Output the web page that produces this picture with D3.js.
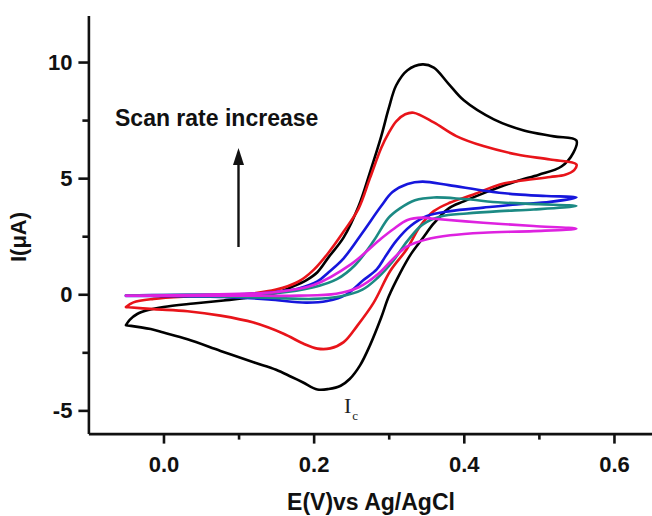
<!DOCTYPE html>
<html>
<head>
<meta charset="utf-8">
<script src="https://cdn.jsdelivr.net/npm/d3@7"></script>
<style>
  html, body { margin: 0; padding: 0; background: #fff; }
  svg { display: block; }
  text { font-family: Arial, "Liberation Sans", Helvetica, sans-serif; }
</style>
</head>
<body>
<svg id="chart" width="652" height="516"></svg>
<script>
// Cyclic voltammograms at increasing scan rates: potential E (V) and current I (µA),
// each list runs forward (anodic) from -0.05 V to 0.55 V, then back (cathodic).
const blackE = [-0.05, -0.045, -0.035, -0.02, 0.0, 0.04, 0.08, 0.12, 0.15, 0.17, 0.19, 0.205, 0.22, 0.24, 0.26, 0.275, 0.29, 0.30, 0.31, 0.325, 0.345, 0.36, 0.38, 0.40, 0.44, 0.48, 0.52, 0.55,
  0.546, 0.53, 0.50, 0.47, 0.43, 0.40, 0.38, 0.36, 0.345, 0.33, 0.315, 0.30, 0.29, 0.275, 0.262, 0.248, 0.236, 0.22, 0.205, 0.186, 0.17, 0.15, 0.12, 0.076, 0.032, 0.0, -0.017, -0.05];
const blackI = [-1.33, -1.1, -0.85, -0.68, -0.55, -0.4, -0.27, -0.12, 0.05, 0.3, 0.6, 0.95, 1.6, 2.45, 3.8, 5.25, 6.8, 8.0, 9.0, 9.65, 9.9, 9.76, 9.05, 8.35, 7.53, 7.05, 6.8, 6.62,
  6.1, 5.5, 5.15, 4.87, 4.4, 4.0, 3.7, 3.05, 2.4, 1.75, 0.9, -0.1, -1.0, -2.2, -3.05, -3.65, -3.94, -4.08, -4.1, -3.8, -3.55, -3.25, -2.93, -2.44, -1.94, -1.65, -1.5, -1.33];

const redE = [-0.05, -0.04, -0.013, 0.03, 0.1, 0.15, 0.18, 0.2, 0.22, 0.24, 0.26, 0.275, 0.29, 0.30, 0.31, 0.322, 0.333, 0.36, 0.39, 0.426, 0.471, 0.515, 0.55,
  0.547, 0.535, 0.515, 0.471, 0.448, 0.413, 0.382, 0.36, 0.342, 0.324, 0.302, 0.28, 0.258, 0.24, 0.222, 0.205, 0.186, 0.16, 0.12, 0.076, 0.032, -0.013, -0.05];
const redI = [-0.55, -0.35, -0.2, -0.1, -0.02, 0.2, 0.55, 1.05, 1.8, 2.7, 3.7, 5.0, 6.3, 6.95, 7.45, 7.75, 7.82, 7.4, 6.81, 6.38, 6.02, 5.8, 5.59,
  5.35, 5.15, 5.05, 4.87, 4.73, 4.3, 3.95, 3.58, 2.94, 1.94, 1.0, -0.36, -1.36, -2.06, -2.33, -2.34, -2.12, -1.7, -1.22, -0.92, -0.73, -0.64, -0.55];

const blueE = [-0.05, 0.0, 0.1, 0.15, 0.18, 0.205, 0.22, 0.24, 0.265, 0.29, 0.305, 0.325, 0.345, 0.38, 0.43, 0.47, 0.51, 0.55,
  0.515, 0.47, 0.426, 0.382, 0.351, 0.329, 0.31, 0.295, 0.284, 0.266, 0.244, 0.218, 0.19, 0.14, 0.08, 0.0, -0.05];
const blueI = [-0.05, -0.03, 0.0, 0.1, 0.25, 0.55, 0.95, 1.55, 2.65, 3.8, 4.4, 4.75, 4.85, 4.7, 4.45, 4.3, 4.23, 4.17,
  3.98, 3.87, 3.73, 3.58, 3.37, 2.94, 2.3, 1.6, 1.07, 0.6, 0.0, -0.29, -0.36, -0.22, -0.12, -0.08, -0.07];

const tealE = [-0.05, 0.05, 0.15, 0.2, 0.231, 0.255, 0.28, 0.30, 0.315, 0.335, 0.36, 0.40, 0.45, 0.5, 0.55,
  0.493, 0.448, 0.404, 0.369, 0.345, 0.325, 0.305, 0.285, 0.265, 0.235, 0.2, 0.14, 0.05, -0.05];
const tealI = [-0.05, -0.02, 0.05, 0.3, 0.65, 1.25, 2.3, 3.3, 3.7, 4.05, 4.17, 4.1, 3.95, 3.88, 3.8,
  3.65, 3.58, 3.48, 3.35, 3.0, 2.3, 1.4, 0.7, 0.2, -0.1, -0.2, -0.15, -0.08, -0.05];

const magentaE = [-0.05, 0.05, 0.15, 0.2, 0.25, 0.29, 0.306, 0.325, 0.345, 0.36, 0.426, 0.493, 0.55,
  0.493, 0.426, 0.382, 0.351, 0.324, 0.305, 0.285, 0.26, 0.23, 0.18, 0.1, -0.05];
const magentaI = [-0.05, -0.02, 0.1, 0.4, 1.3, 2.4, 2.8, 3.2, 3.3, 3.25, 3.08, 2.94, 2.82,
  2.72, 2.65, 2.54, 2.37, 2.05, 1.5, 0.85, 0.3, 0.02, -0.06, -0.06, -0.06];

// axis ticks
const xMajorTicks = [0.0, 0.2, 0.4, 0.6];
const xMinorTicks = [0.1, 0.3, 0.5];
const yMajorTicks = [-5, 0, 5, 10];
const yMinorTicks = [-2.5, 2.5, 7.5];

const series = [
  { E: blackE, I: blackI, color: "#000000" },
  { E: redE, I: redI, color: "#e8141a" },
  { E: blueE, I: blueI, color: "#1616dc" },
  { E: tealE, I: tealI, color: "#1c8a84" },
  { E: magentaE, I: magentaI, color: "#de22e0" }
];

const svg = d3.select("#chart");

const x = d3.scaleLinear().domain([-0.1, 0.65]).range([88.4, 651.5]);
const y = d3.scaleLinear().domain([-6, 12]).range([433.6, 15.6]);

// curves
const line = d3.line()
  .x(d => x(d[0]))
  .y(d => y(d[1]))
  .curve(d3.curveCatmullRom.alpha(0.5));

svg.append("g")
  .selectAll("path")
  .data(series)
  .join("path")
  .attr("d", s => line(s.E.map((e, i) => [e, s.I[i]])))
  .attr("fill", "none")
  .attr("stroke", s => s.color)
  .attr("stroke-width", 2.6)
  .attr("stroke-linejoin", "round")
  .attr("stroke-linecap", "round");

// axes
const axisStroke = 2.6;
const styleAxis = g => {
  g.attr("font-family", null);
  g.select(".domain").attr("stroke", "#111").attr("stroke-width", axisStroke);
  g.selectAll(".tick line").attr("stroke", "#111").attr("stroke-width", axisStroke);
  g.selectAll(".tick text")
    .attr("fill", "#111")
    .style("font-size", "22px")
    .style("font-weight", "bold");
};

svg.append("g")
  .attr("transform", `translate(0,${y(-6)})`)
  .call(d3.axisBottom(x).tickValues(xMajorTicks).tickFormat(d => d.toFixed(1)).tickSize(10).tickSizeOuter(0).tickPadding(13))
  .call(styleAxis);

svg.append("g")
  .attr("transform", `translate(0,${y(-6)})`)
  .call(d3.axisBottom(x).tickValues(xMinorTicks).tickFormat("").tickSize(6).tickSizeOuter(0))
  .call(g => g.select(".domain").remove())
  .call(g => g.selectAll(".tick line").attr("stroke", "#111").attr("stroke-width", axisStroke));

svg.append("g")
  .attr("transform", `translate(${x(-0.1)},0)`)
  .call(d3.axisLeft(y).tickValues(yMajorTicks).tickFormat(d => String(d)).tickSize(10).tickSizeOuter(0).tickPadding(6))
  .call(styleAxis);

svg.append("g")
  .attr("transform", `translate(${x(-0.1)},0)`)
  .call(d3.axisLeft(y).tickValues(yMinorTicks).tickFormat("").tickSize(6).tickSizeOuter(0))
  .call(g => g.select(".domain").remove())
  .call(g => g.selectAll(".tick line").attr("stroke", "#111").attr("stroke-width", axisStroke));

// axis titles
svg.append("text")
  .attr("x", 371)
  .attr("y", 510)
  .attr("text-anchor", "middle")
  .attr("fill", "#111")
  .style("font-size", "23px")
  .style("font-weight", "bold")
  .text("E(V)vs Ag/AgCl");

svg.append("text")
  .attr("transform", "translate(26,237) rotate(-90)")
  .attr("text-anchor", "middle")
  .attr("fill", "#111")
  .style("font-size", "22px")
  .style("font-weight", "bold")
  .text("I(μA)");

// annotation: scan rate arrow
svg.append("text")
  .attr("x", 115)
  .attr("y", 126)
  .attr("fill", "#111")
  .style("font-size", "23px")
  .style("font-weight", "bold")
  .text("Scan rate increase");

svg.append("line")
  .attr("x1", 238.5).attr("y1", 247)
  .attr("x2", 238.5).attr("y2", 160)
  .attr("stroke", "#111")
  .attr("stroke-width", 2.4);

svg.append("path")
  .attr("d", "M238.5,148 L233,165 L244,165 Z")
  .attr("fill", "#111");

// cathodic peak label
const ic = svg.append("text")
  .attr("x", 344)
  .attr("y", 413)
  .attr("fill", "#222")
  .style("font-family", "'Liberation Serif', 'DejaVu Serif', serif")
  .style("font-size", "22px");
ic.append("tspan").text("I");
ic.append("tspan").attr("dx", 1).attr("dy", 7).style("font-size", "13px").text("c");
</script>
</body>
</html>
